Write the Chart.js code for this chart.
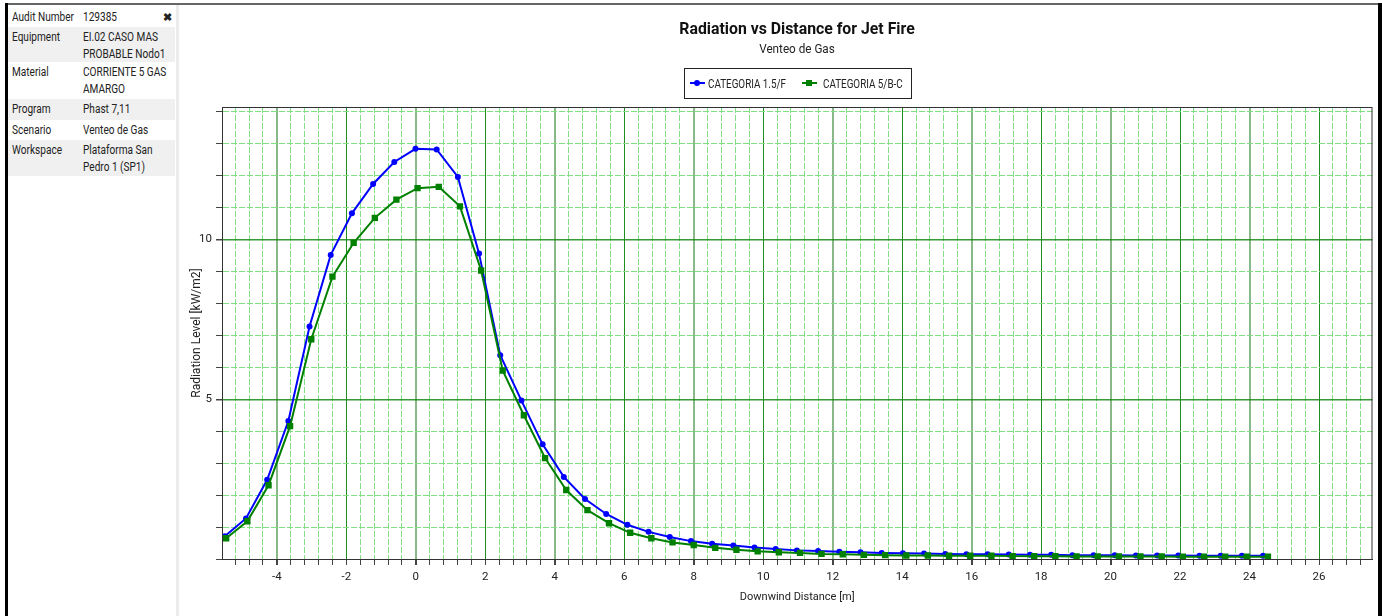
<!DOCTYPE html>
<html lang="en">
<head>
<meta charset="UTF-8">
<title>Radiation vs Distance for Jet Fire</title>
<script src="https://cdn.jsdelivr.net/npm/chart.js"></script>
<style>
  body { margin: 0; width: 1382px; height: 616px; background: #fff; position: relative; overflow: hidden;
         font-family: 'Roboto', sans-serif; color: #222; }
  .frame-top { position: absolute; left: 5px; top: 3px; width: 1376px; height: 2px; background: #666; z-index: 3; }
  .frame-left { position: absolute; left: 5px; top: 3px; width: 3px; height: 613px; background: #000; z-index: 3; }
  .frame-right { position: absolute; left: 1378px; top: 3px; width: 4px; height: 613px; background: #000; z-index: 3; }
  .sep { position: absolute; left: 176px; top: 5px; width: 3px; height: 611px; background: #ececec; }
  /* narrow text: squeeze horizontally, keep the height */
  .nx { display: inline-block; white-space: nowrap; transform: scaleX(0.84); transform-origin: 0 0; }
  #info { position: absolute; left: 8px; top: 7px; width: 167px; font-size: 12px; }
  .row { display: flex; box-sizing: border-box; padding-top: 2px; line-height: 17px; position: relative; }
  .row.alt { background: #f0f0f0; }
  .lbl { width: 71px; padding-left: 4px; flex: none; }
  .val { width: 92px; flex: none; }
  .close { position: absolute; left: 155px; top: 2px; font-weight: bold; font-size: 11px; }
  #chartBox { position: absolute; left: 180px; top: 0; width: 1197px; height: 616px; }
  .title { position: absolute; left: 597px; width: 400px; text-align: center; white-space: nowrap; }
  #t1 { top: 18px; font-size: 17px; font-weight: bold; line-height: 20px; color: #111; transform: scaleX(0.93); }
  #t2 { top: 41px; font-size: 13px; line-height: 16px; transform: scaleX(0.9); }
  #legend { position: absolute; left: 684px; top: 68px; width: 228px; height: 31px; box-sizing: border-box;
            border: 1px solid #222; background: #fff; font-size: 12px; }
  #legend .txt { position: absolute; top: 7px; line-height: 16px; }
  .mark { position: absolute; top: 10px; width: 15px; height: 8px; }
  .mark .ln { position: absolute; left: 0; top: 3px; width: 15px; height: 2px; }
  .mark .pt { position: absolute; left: 4px; top: 1px; width: 6px; height: 6px; }
</style>
</head>
<body>
  <div class="frame-top"></div>
  <div class="frame-left"></div>
  <div class="frame-right"></div>
  <div class="sep"></div>

  <div id="info">
    <div class="row" style="height:20px"><div class="lbl"><span class="nx">Audit Number</span></div><div class="val"><span class="nx">129385</span></div><span class="close">&#10006;</span></div>
    <div class="row alt" style="height:35px"><div class="lbl"><span class="nx">Equipment</span></div><div class="val"><span class="nx">EI.02 CASO MAS<br>PROBABLE Nodo1</span></div></div>
    <div class="row" style="height:37px"><div class="lbl"><span class="nx">Material</span></div><div class="val"><span class="nx">CORRIENTE 5 GAS<br>AMARGO</span></div></div>
    <div class="row alt" style="height:21px"><div class="lbl"><span class="nx">Program</span></div><div class="val"><span class="nx">Phast 7,11</span></div></div>
    <div class="row" style="height:20px"><div class="lbl"><span class="nx">Scenario</span></div><div class="val"><span class="nx">Venteo de Gas</span></div></div>
    <div class="row alt" style="height:36px"><div class="lbl"><span class="nx">Workspace</span></div><div class="val"><span class="nx">Plataforma San<br>Pedro 1 (SP1)</span></div></div>
  </div>

  <div id="chartBox"><canvas id="chart" width="1197" height="616"></canvas></div>

  <div class="title" id="t1">Radiation vs Distance for Jet Fire</div>
  <div class="title" id="t2">Venteo de Gas</div>
  <div id="legend">
    <span class="mark" style="left:5px"><span class="ln" style="background:#0000ff"></span><span class="pt" style="background:#0000ff;border-radius:50%"></span></span>
    <span class="txt nx" style="left:23px;transform:scaleX(0.82)">CATEGORIA 1.5/F</span>
    <span class="mark" style="left:117px"><span class="ln" style="background:#008000"></span><span class="pt" style="background:#008000"></span></span>
    <span class="txt nx" style="left:138px;transform:scaleX(0.82)">CATEGORIA 5/B-C</span>
  </div>

<script>
  // distances [m] and radiation levels [kW/m2]
  const distF = [-5.5, -4.89, -4.28, -3.67, -3.06, -2.45, -1.84, -1.23, -0.62, -0.01,
    0.6, 1.21, 1.82, 2.43, 3.04, 3.65, 4.26, 4.87, 5.48, 6.09,
    6.7, 7.31, 7.92, 8.53, 9.14, 9.75, 10.36, 10.97, 11.58, 12.19,
    12.8, 13.41, 14.02, 14.63, 15.24, 15.85, 16.46, 17.07, 17.68, 18.29,
    18.9, 19.51, 20.12, 20.73, 21.34, 21.95, 22.56, 23.17, 23.78, 24.39];
  const radF = [0.71, 1.27, 2.48, 4.32, 7.28, 9.52, 10.82, 11.74, 12.43, 12.84,
    12.82, 11.96, 9.56, 6.38, 4.96, 3.59, 2.57, 1.88, 1.41, 1.07,
    0.85, 0.69, 0.56, 0.48, 0.42, 0.36, 0.31, 0.27, 0.25, 0.23,
    0.21, 0.19, 0.18, 0.17, 0.16, 0.15, 0.15, 0.14, 0.13, 0.13,
    0.12, 0.12, 0.12, 0.11, 0.11, 0.11, 0.1, 0.1, 0.1, 0.1];

  const distBC = [-5.46, -4.85, -4.24, -3.62, -3.01, -2.4, -1.79, -1.18, -0.56, 0.05,
    0.66, 1.27, 1.88, 2.5, 3.11, 3.72, 4.33, 4.94, 5.56, 6.17,
    6.78, 7.39, 8.0, 8.62, 9.23, 9.84, 10.45, 11.06, 11.68, 12.29,
    12.9, 13.51, 14.12, 14.74, 15.35, 15.96, 16.57, 17.18, 17.8, 18.41,
    19.02, 19.63, 20.24, 20.86, 21.47, 22.08, 22.69, 23.3, 23.92, 24.53];
  const radBC = [0.65, 1.18, 2.31, 4.16, 6.88, 8.84, 9.9, 10.68, 11.25, 11.61,
    11.65, 11.04, 9.03, 5.9, 4.5, 3.16, 2.16, 1.53, 1.12, 0.82,
    0.65, 0.52, 0.44, 0.35, 0.29, 0.24, 0.21, 0.19, 0.16, 0.15,
    0.13, 0.12, 0.11, 0.11, 0.1, 0.1, 0.1, 0.09, 0.09, 0.09,
    0.08, 0.08, 0.08, 0.08, 0.08, 0.07, 0.07, 0.07, 0.07, 0.07];

  const xLabels = [-4, -2, 0, 2, 4, 6, 8, 10, 12, 14, 16, 18, 20, 22, 24, 26];
  const yLabels = [5, 10];

  const near = (v, list) => list.some(t => Math.abs(v - t) < 1e-6);
  const isMult = (v, m) => Math.abs(v / m - Math.round(v / m)) < 1e-6;

  const MINOR = '#7fe07f';
  const MINOR_DASH = [6, 2];

  // plot frame around the chart area
  const frame = {
    id: 'frame',
    afterDraw(chart) {
      const { ctx, chartArea: a } = chart;
      ctx.save();
      ctx.strokeStyle = '#333';
      ctx.lineWidth = 1;
      ctx.strokeRect(a.left + 0.5, a.top + 0.5, a.right - a.left - 1, a.bottom - a.top);
      ctx.restore();
    }
  };

  Chart.defaults.font.family = "'Roboto', sans-serif";
  Chart.defaults.color = '#222';

  new Chart(document.getElementById('chart'), {
    type: 'line',
    data: {
      datasets: [
        {
          label: 'CATEGORIA 1.5/F',
          data: distF.map((x, i) => ({ x, y: radF[i] })),
          borderColor: '#0000ff',
          backgroundColor: '#0000ff',
          borderWidth: 2,
          pointStyle: 'circle',
          pointRadius: 3,
          pointBorderWidth: 0,
          order: 1
        },
        {
          label: 'CATEGORIA 5/B-C',
          data: distBC.map((x, i) => ({ x, y: radBC[i] })),
          borderColor: '#008000',
          backgroundColor: '#008000',
          borderWidth: 2,
          pointStyle: 'rect',
          pointRadius: 4.5,
          pointBorderWidth: 0,
          order: 0
        }
      ]
    },
    options: {
      responsive: false,
      animation: false,
      layout: { padding: { top: 107, right: 4, bottom: 0, left: 0 } },
      plugins: { legend: { display: false }, tooltip: { enabled: false } },
      scales: {
        x: {
          type: 'linear',
          min: -5.58,
          max: 27.54,
          afterFit(s) { s.height = 57; },
          ticks: {
            stepSize: 0.4,
            includeBounds: false,
            autoSkip: false,
            maxRotation: 0,
            padding: 5,
            font: { size: 11.5 },
            callback: v => near(v, xLabels) ? String(Math.round(v)) : ''
          },
          grid: {
            color: c => {
              if (!c.tick) return MINOR;
              if (isMult(c.tick.value, 4)) return 'rgba(40,125,40,0.55)';
              if (isMult(c.tick.value, 2)) return '#1f8f1f';
              return MINOR;
            },
            lineWidth: c => (c.tick && isMult(c.tick.value, 4)) ? 2 : 1,
            tickColor: '#444',
            tickLength: 6
          },
          border: {
            color: '#222',
            dash: c => (c.tick && !isMult(c.tick.value, 2)) ? MINOR_DASH : []
          },
          title: { display: true, text: 'Downwind Distance [m]', font: { size: 11 }, padding: { top: 0, bottom: 12 } }
        },
        y: {
          type: 'linear',
          min: 0,
          max: 14.15,
          afterFit(s) { s.width = 42; },
          ticks: {
            stepSize: 1,
            includeBounds: false,
            autoSkip: false,
            padding: 4,
            font: { size: 11.5 },
            callback: v => near(v, yLabels) ? String(v) : ''
          },
          grid: {
            color: c => (c.tick && isMult(c.tick.value, 5)) ? 'rgba(20,135,20,0.85)' : MINOR,
            lineWidth: c => (c.tick && isMult(c.tick.value, 5) && c.tick.value > 0) ? 1.5 : 1,
            tickColor: '#444',
            tickLength: 6
          },
          border: {
            color: '#222',
            dash: c => (c.tick && !isMult(c.tick.value, 5)) ? MINOR_DASH : []
          },
          title: { display: true, text: 'Radiation Level [kW/m2]', font: { size: 12 }, padding: { top: 10, bottom: 0 } }
        }
      }
    },
    plugins: [frame]
  });
</script>
</body>
</html>
